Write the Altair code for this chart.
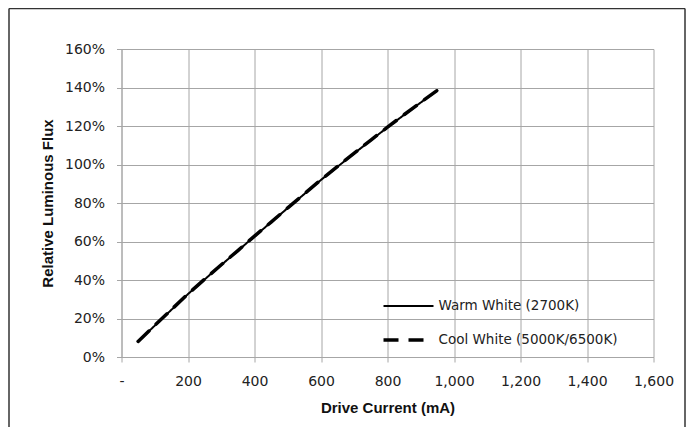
import altair as alt
import pandas as pd

current = [50, 100, 150, 200, 250, 300, 350, 400, 450, 500, 550, 600, 650, 700, 750, 800, 850, 900, 950]
warm = [0.080, 0.163, 0.245, 0.327, 0.403, 0.478, 0.552, 0.627, 0.700, 0.774, 0.847, 0.920, 0.989, 1.058, 1.126, 1.193, 1.258, 1.322, 1.385]
cool = [0.081, 0.164, 0.246, 0.328, 0.404, 0.479, 0.553, 0.628, 0.701, 0.775, 0.848, 0.921, 0.990, 1.059, 1.127, 1.194, 1.259, 1.323, 1.386]
series = ["Warm White (2700K)", "Cool White (5000K/6500K)"]

rows = []
for c, w, k in zip(current, warm, cool):
    rows.append({"current": c, "flux": w, "series": series[0]})
    rows.append({"current": c, "flux": k, "series": series[1]})
df = pd.DataFrame(rows)

GRID = "#a6a6a6"
LABEL_FONT = "DejaVu Sans"
TITLE_FONT = "Liberation Sans"

lines = alt.Chart(df).mark_line(color="black", strokeCap="round").encode(
    x=alt.X("current:Q", title="Drive Current (mA)",
            scale=alt.Scale(domain=[0, 1600], nice=False),
            axis=alt.Axis(values=list(range(0, 1601, 200)),
                          labelExpr="datum.value == 0 ? '-' : format(datum.value, ',')",
                          labelFlush=False, labelPadding=12, titlePadding=12)),
    y=alt.Y("flux:Q", title="Relative Luminous Flux",
            scale=alt.Scale(domain=[0, 1.6], nice=False),
            axis=alt.Axis(values=[i / 10 for i in range(0, 17, 2)], format=".0%",
                          labelFlush=False, labelPadding=12, titlePadding=9)),
    strokeDash=alt.StrokeDash("series:N",
                              scale=alt.Scale(domain=series, range=[[1, 0], [15, 10]]),
                              legend=alt.Legend(title=None)),
    strokeWidth=alt.StrokeWidth("series:N",
                                scale=alt.Scale(domain=series, range=[2, 3.5]),
                                legend=alt.Legend(title=None)),
    detail="series:N",
)

frame_df = pd.DataFrame({"k": [0]})
FRAME = "#333333"
left_edge = alt.Chart(frame_df).mark_rule(color=FRAME, strokeWidth=1.5).encode(
    x=alt.value(-112.5), y=alt.value(-40.5), y2=alt.value(400))
top_edge = alt.Chart(frame_df).mark_rule(color=FRAME, strokeWidth=1.5).encode(
    x=alt.value(-112.5), x2=alt.value(563.5), y=alt.value(-40.5))
right_edge = alt.Chart(frame_df).mark_rule(color=FRAME, strokeWidth=1.5).encode(
    x=alt.value(563.5), y=alt.value(-40.5), y2=alt.value(400))

chart = alt.layer(lines, left_edge, top_edge, right_edge).properties(
    width=532, height=308,
    padding={"left": 113.5, "top": 41, "right": 32, "bottom": 70},
    autosize=alt.AutoSizeParams(type="none"),
).configure_view(stroke=None).configure_axis(
    gridColor=GRID, gridWidth=1, domainColor=GRID, tickColor=GRID, tickSize=5,
    labelFont=LABEL_FONT, labelFontSize=14, labelColor="#222222",
    titleFont=TITLE_FONT, titleFontSize=15, titleFontWeight="bold", titleColor="#111111",
).configure_legend(
    orient="none", legendX=260, legendY=231,
    symbolType="stroke", symbolSize=2500, symbolStrokeColor="black",
    labelFont=LABEL_FONT, labelFontSize=13.5, labelColor="#222222", labelLimit=400,
    labelOffset=3, rowPadding=-5,
)

chart.save("out.html", embed_options={"renderer": "svg", "actions": False})
